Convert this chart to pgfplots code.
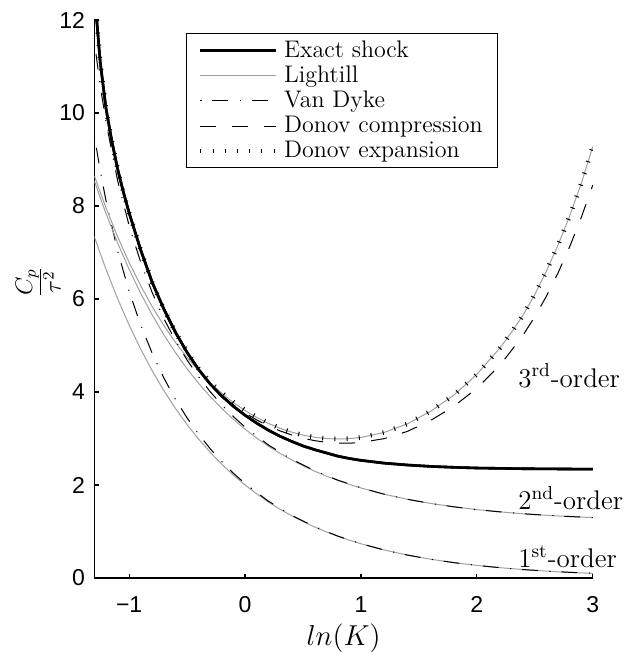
\documentclass[border=0pt]{standalone}
\usepackage{pgfplots}
\pgfplotsset{compat=1.18}
\usepackage{pgfplotstable}
\usepackage{fontspec}
\newfontfamily\arialfont{Liberation Sans}
\definecolor{lhgray}{RGB}{160,160,160}

\pgfplotstableread{
x L1 L2 L3
-1.3 7.339 8.539 8.648
-1.25 6.981 8.181 8.296
-1.2 6.640 7.840 7.960
-1.1 6.008 7.208 7.341
-1.0 5.437 6.637 6.784
-0.9 4.919 6.119 6.282
-0.8 4.451 5.651 5.831
-0.7 4.027 5.227 5.426
-0.6 3.644 4.844 5.064
-0.5 3.297 4.497 4.740
-0.4 2.984 4.184 4.452
-0.3 2.700 3.900 4.196
-0.2 2.443 3.643 3.970
-0.1 2.210 3.410 3.772
0 2.000 3.200 3.600
0.1 1.810 3.010 3.452
0.2 1.637 2.837 3.326
0.3 1.482 2.682 3.222
0.4 1.341 2.541 3.138
0.5 1.213 2.413 3.072
0.6 1.098 2.298 3.027
0.7 0.993 2.193 2.999
0.8 0.899 2.099 2.989
0.9 0.813 2.013 2.997
1.0 0.736 1.936 3.023
1.2 0.602 1.802 3.130
1.4 0.493 1.693 3.315
1.6 0.404 1.604 3.585
1.8 0.331 1.531 3.930
2.0 0.271 1.471 4.380
2.2 0.222 1.422 4.950
2.3 0.201 1.401 5.290
2.4 0.181 1.381 5.660
2.5 0.164 1.364 6.100
2.6 0.149 1.349 6.600
2.7 0.134 1.334 7.160
2.8 0.122 1.322 7.780
2.9 0.110 1.310 8.480
3.0 0.100 1.300 9.280
}\lighthill

\pgfplotstableread{
x V1 V2
-1.3 9.506 11.528
-1.25 8.764 10.592
-1.2 8.116 9.807
-1.1 7.036 8.550
-1.0 6.162 7.573
-0.9 5.437 6.785
-0.8 4.824 6.130
-0.7 4.297 5.575
-0.6 3.840 5.099
-0.5 3.441 4.686
-0.4 3.089 4.324
-0.3 2.777 4.004
-0.2 2.499 3.720
-0.1 2.252 3.469
0 2.031 3.245
0.2 1.654 2.863
0.4 1.350 2.556
0.6 1.103 2.307
0.8 0.901 2.104
1.0 0.737 1.939
1.2 0.602 1.802
1.4 0.493 1.693
1.6 0.404 1.604
1.8 0.331 1.531
2.0 0.271 1.471
2.2 0.222 1.422
2.4 0.181 1.381
2.6 0.149 1.349
2.8 0.122 1.322
3.0 0.100 1.300
}\vandyke

\pgfplotstableread{
x y
-1.29 12.25
-1.28 12.0
-1.25 11.1
-1.2 10.1
-1.15 9.4
-1.1 8.8
-1.05 8.3
-1.0 7.85
-0.9 7.05
-0.8 6.35
-0.7 5.78
-0.6 5.28
-0.5 4.85
-0.4 4.47
-0.3 4.16
-0.2 3.92
-0.1 3.72
0 3.55
0.1 3.40
0.2 3.27
0.3 3.165
0.4 3.078
0.5 3.006
0.6 2.954
0.7 2.918
0.8 2.900
0.9 2.899
1.0 2.915
1.2 2.997
1.4 3.153
1.6 3.387
1.8 3.690
2.0 4.080
2.2 4.580
2.3 4.900
2.4 5.230
2.5 5.620
2.6 6.060
2.7 6.560
2.8 7.120
2.9 7.750
3.0 8.450
}\donovcomp

\pgfplotstableread{
x y
-1.29 12.25
-1.28 12.0
-1.25 11.1
-1.2 10.1
-1.15 9.4
-1.1 8.8
-1.05 8.3
-1.0 7.85
-0.9 7.05
-0.8 6.35
-0.7 5.78
-0.6 5.28
-0.5 4.86
-0.4 4.50
-0.3 4.21
-0.2 3.98
-0.1 3.78
0 3.61
0.1 3.46
0.2 3.33
0.3 3.222
0.4 3.138
0.5 3.072
0.6 3.027
0.7 2.999
0.8 2.989
0.9 2.997
1.0 3.023
1.2 3.130
1.4 3.315
1.6 3.585
1.8 3.930
2.0 4.380
2.2 4.950
2.3 5.290
2.4 5.660
2.5 6.100
2.6 6.600
2.7 7.160
2.8 7.780
2.9 8.480
3.0 9.280
}\donovexp

\pgfplotstableread{
x y
-1.29 12.25
-1.28 12.0
-1.25 11.1
-1.2 10.1
-1.15 9.4
-1.1 8.8
-1.05 8.3
-1.0 7.85
-0.9 7.05
-0.8 6.35
-0.7 5.78
-0.6 5.28
-0.5 4.85
-0.4 4.48
-0.3 4.17
-0.2 3.91
-0.1 3.69
0 3.50
0.1 3.33
0.2 3.18
0.3 3.05
0.4 2.94
0.5 2.84
0.6 2.76
0.7 2.69
0.8 2.62
0.9 2.57
1.0 2.53
1.2 2.47
1.4 2.43
1.6 2.40
1.8 2.38
2.0 2.365
2.4 2.35
3.0 2.34
}\exact

\begin{document}
\begin{tikzpicture}
\begin{axis}[
  name=ax,
  scale only axis, width=249.2pt, height=279pt,
  xmin=-1.3, xmax=3, ymin=0, ymax=12,
  axis x line*=bottom, axis y line*=left,
  axis line style={line width=0.6pt},
  tick align=inside, major tick length=2.2pt,
  tick style={line width=0.6pt, black},
  xtick={-1,0,1,2,3}, xticklabels={−1,0,1,2,3},
  ytick={0,2,4,6,8,10,12}, yticklabels={0,2,4,6,8,10,12},
  tick label style={font=\arialfont\fontsize{11.5}{13}\selectfont},
  xticklabel style={yshift=-5.8pt},
  yticklabel style={xshift=-1.2pt},
  xlabel={$ln(K)$}, ylabel={$\frac{C_p}{\tau^2}$},
  label style={font=\fontsize{13.5}{16}\selectfont},
  xlabel style={at={(axis description cs:0.5,-0.1075)}, anchor=center},
  ylabel style={at={(axis description cs:-0.113,0.53)}, anchor=center, font=\fontsize{17}{20}\selectfont},
  legend style={at={(axis description cs:0.183,0.976)}, anchor=north west,
    font=\fontsize{12}{14}\selectfont, inner xsep=6pt, inner ysep=2pt,
    nodes={inner sep=1.4pt, text depth=0.15em}, column sep=1.4pt, draw=black},
  legend cell align=left,
  legend image code/.code={\draw[#1] (0pt,0pt) -- (38pt,0pt);},
  clip mode=individual,
]
\addplot[black, line width=1.3pt] table[x=x, y=y] {\exact};
\addlegendentry{Exact shock}
\addplot[lhgray, line width=0.5pt] table[x=x, y=L1] {\lighthill};
\addlegendentry{Lightill}
\addplot[black, line width=0.5pt, dash pattern=on 0.6pt off 5.4pt on 7.9pt off 5.8pt] table[x=x, y=V1] {\vandyke};
\addlegendentry{Van Dyke}
\addplot[black, line width=0.5pt, dash pattern=on 8pt off 8pt] table[x=x, y=y] {\donovcomp};
\addlegendentry{Donov compression}
\addplot[lhgray, line width=0.5pt, forget plot] table[x=x, y=L2] {\lighthill};
\addplot[lhgray, line width=0.5pt, forget plot] table[x=x, y=L3] {\lighthill};
\addplot[black, line width=0.5pt, dash pattern=on 0.6pt off 5.4pt on 7.9pt off 5.8pt, forget plot] table[x=x, y=V2] {\vandyke};
\addplot[black, line width=1.3pt, forget plot] table[x=x, y=y] {\exact};
\addplot[black, line width=2.3pt, dash pattern=on 0.5pt off 5.6pt] table[x=x, y=y] {\donovexp};
\addlegendentry{Donov expansion}
\node[anchor=west, inner sep=0pt, font=\fontsize{13.5}{16}\selectfont] at (axis cs:2.354,4.35) {3\textsuperscript{rd}-order};
\node[anchor=west, inner sep=0pt, font=\fontsize{13.5}{16}\selectfont] at (axis cs:2.354,1.72) {2\textsuperscript{nd}-order};
\node[anchor=west, inner sep=0pt, font=\fontsize{13.5}{16}\selectfont] at (axis cs:2.354,0.45) {1\textsuperscript{st}-order};
\end{axis}
\pgfresetboundingbox
\path[use as bounding box] ([shift={(-47.2pt,-37pt)}]ax.south west) rectangle ([shift={(266.3pt,289pt)}]ax.south west);
\end{tikzpicture}
\end{document}
